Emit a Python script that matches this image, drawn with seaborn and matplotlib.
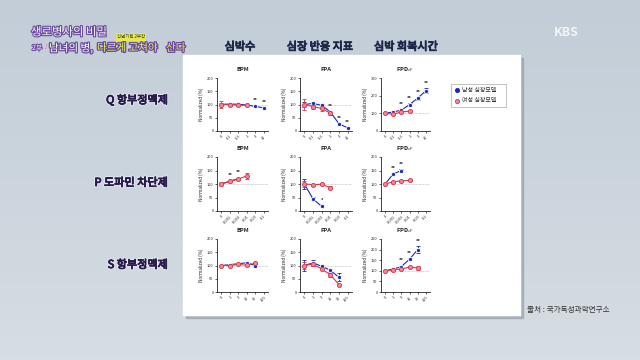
import numpy as np
import pandas as pd
import seaborn as sns
import matplotlib.pyplot as plt
import matplotlib.patheffects as pe
from matplotlib.patches import Rectangle
from matplotlib.colors import to_hex

# dose labels (x categories) per drug row
doses_q = ["0", "0.1", "0.3", "1", "3", "10"]
doses_p = ["0", "0.001", "0.003", "0.01", "0.03", "0.1"]
doses_s = ["0", "1", "3", "10", "30", "100"]

row_labels = ["Q 항부정맥제", "P 도파민 차단제", "S 항부정맥제"]
col_headers = ["심박수", "심장 반응 지표", "심박 회복시간"]
metrics = ["BPM", "FPA", "FPD$_{cF}$"]
sex_labels = ["남성 심장모델", "여성 심장모델"]

# values (normalized %)
q_bpm_m = [100, 102, 101, 98, 93, 87]
q_bpm_f = [100, 100, 97, 97]
q_fpa_m = [100, 104, 97, 72, 27, 12]
q_fpa_f = [100, 92, 85, 67]
q_fpd_m = [100, 108, 118, 150, 186, 228]
q_fpd_f = [100, 95, 108, 112]

p_bpm_m = [100, 110, 120]
p_bpm_f = [100, 110, 118, 130]
p_fpa_m = [100, 45, 17]
p_fpa_f = [100, 98, 99, 86]
p_fpd_m = [100, 137, 150]
p_fpd_f = [100, 108, 112, 113]

s_bpm_m = [100, 103, 107, 110, 100]
s_bpm_f = [100, 100, 104, 101, 109]
s_fpa_m = [100, 110, 97, 82, 55]
s_fpa_f = [100, 105, 87, 65, 28]
s_fpd_m = [100, 108, 120, 155, 200]
s_fpd_f = [100, 104, 108, 118, 113]

# error bar half-widths
q_bpm_m_err = [4, 3, 3, 3, 3, 3]
q_bpm_f_err = [15, 5, 4, 3]
q_fpa_m_err = [10, 5, 4, 5, 3, 2]
q_fpa_f_err = [22, 8, 10, 8]
q_fpd_m_err = [3, 4, 5, 6, 8, 14]
q_fpd_f_err = [4, 6, 5, 5]
p_bpm_m_err = [4, 4, 4]
p_bpm_f_err = [8, 5, 5, 12]
p_fpa_m_err = [20, 6, 3]
p_fpa_f_err = [10, 3, 3, 6]
p_fpd_m_err = [3, 5, 4]
p_fpd_f_err = [3, 3, 3, 3]
s_bpm_m_err = [3, 3, 4, 5, 6]
s_bpm_f_err = [3, 3, 3, 4, 4]
s_fpa_m_err = [22, 10, 4, 6, 15]
s_fpa_f_err = [15, 8, 4, 8, 4]
s_fpd_m_err = [3, 4, 5, 6, 15]
s_fpd_f_err = [3, 3, 4, 5, 8]

ymax = [[200, 200, 300], [200, 200, 200], [200, 200, 250]]
ystep = [[50, 50, 100], [50, 50, 50], [50, 50, 50]]

# significance marks: (x index, text)
stars = [
    [[(4, "**"), (5, "**")], [(3, "**"), (4, "**"), (5, "**")], [(2, "**"), (3, "**"), (4, "**"), (5, "**")]],
    [[(1, "**"), (2, "**")], [(2, "*")], [(1, "**"), (2, "**")]],
    [[], [], [(2, "**"), (3, "**"), (4, "**")]],
]

data = [
    [(q_bpm_m, q_bpm_m_err, q_bpm_f, q_bpm_f_err), (q_fpa_m, q_fpa_m_err, q_fpa_f, q_fpa_f_err), (q_fpd_m, q_fpd_m_err, q_fpd_f, q_fpd_f_err)],
    [(p_bpm_m, p_bpm_m_err, p_bpm_f, p_bpm_f_err), (p_fpa_m, p_fpa_m_err, p_fpa_f, p_fpa_f_err), (p_fpd_m, p_fpd_m_err, p_fpd_f, p_fpd_f_err)],
    [(s_bpm_m, s_bpm_m_err, s_bpm_f, s_bpm_f_err), (s_fpa_m, s_fpa_m_err, s_fpa_f, s_fpa_f_err), (s_fpd_m, s_fpd_m_err, s_fpd_f, s_fpd_f_err)],
]
doses = [doses_q, doses_p, doses_s]

sns.set_theme(style="ticks")
plt.rcParams["font.family"] = ["Noto Sans CJK KR", "DejaVu Sans"]
plt.rcParams["axes.unicode_minus"] = False

BLUE = "#1c2bb0"
RED = "#d8344c"
RED_FILL = "#ee8a98"
W, H = 640, 360

fig = plt.figure(figsize=(6.4, 3.6), dpi=100)
fig.patch.set_facecolor("#cbd4dc")


def fx(x):
    return x / W


def fy(y):
    return 1 - y / H


# soft vertical gradient for the studio background
bg = fig.add_axes([0, 0, 1, 1], zorder=-5)
grad = np.linspace(0, 1, 100).reshape(-1, 1)
bg.imshow(grad, aspect="auto", cmap=sns.blend_palette(["#c2cdd7", "#d6dde3"], as_cmap=True),
          extent=[0, 1, 0, 1], origin="upper")
bg.axis("off")

# white panel with shadow
fig.patches.append(Rectangle((fx(186), fy(318)), fx(337), fy(58) - fy(318), transform=fig.transFigure,
                             color="#8e98a2", alpha=0.55, zorder=1))
fig.patches.append(Rectangle((fx(183), fy(315)), fx(337), fy(55) - fy(315), transform=fig.transFigure,
                             color="white", zorder=2))

col_x = [(217, 268), (300, 352), (381, 430)]
row_y = [(78, 131), (157, 211), (239, 292)]

for r in range(3):
    for c in range(3):
        x0, x1 = col_x[c]
        y0, y1 = row_y[r]
        ax = fig.add_axes([fx(x0), fy(y1), fx(x1 - x0), fy(y0) - fy(y1)])
        ax.set_zorder(10)
        ax.set_facecolor("none")
        m, me, f, fe = data[r][c]
        df = pd.concat([
            pd.DataFrame({"pos": range(len(m)), "val": m, "err": me, "sex": sex_labels[0]}),
            pd.DataFrame({"pos": range(len(f)), "val": f, "err": fe, "sex": sex_labels[1]}),
        ])
        ax.axhline(100, color="#b0b0b0", lw=0.5, ls=(0, (1, 1)), zorder=1)
        for sex, col, z in [(sex_labels[0], BLUE, 3), (sex_labels[1], RED, 4)]:
            sub = df[df["sex"] == sex]
            ax.errorbar(sub["pos"], sub["val"], yerr=sub["err"], fmt="none", ecolor=col,
                        elinewidth=0.6, capsize=1.2, capthick=0.6, zorder=z)
        sns.lineplot(data=df, x="pos", y="val", hue="sex", palette=[BLUE, RED], marker="o",
                     markersize=3, markeredgewidth=0.6, lw=0.8, legend=False, ax=ax, zorder=5)
        # female markers have a lighter centre
        for ln in ax.lines:
            if to_hex(ln.get_color()) == RED:
                ln.set_markerfacecolor(RED_FILL)
                ln.set_markeredgecolor(RED)
        for xi, s in stars[r][c]:
            ax.text(xi, m[xi] + me[xi] + ymax[r][c] * 0.04, s, ha="center", va="bottom",
                    fontsize=3.5, color="#222222", fontweight="bold")
        ax.set_xlim(-0.5, 5.5)
        ax.set_ylim(0, ymax[r][c])
        ax.set_xticks(range(6))
        ax.set_xticklabels(doses[r], rotation=45, fontsize=2.6, ha="right", rotation_mode="anchor")
        ax.set_yticks(range(0, ymax[r][c] + 1, ystep[r][c]))
        ax.tick_params(axis="both", labelsize=2.8, width=0.5, length=1.5, pad=1)
        ax.set_xlabel("")
        ax.set_ylabel("Normalized (%)", fontsize=3.4, labelpad=2)
        ax.set_title(metrics[c], fontsize=4.2, fontweight="bold", pad=5)
        for sp in ["top", "right"]:
            ax.spines[sp].set_visible(False)
        for sp in ["left", "bottom"]:
            ax.spines[sp].set_linewidth(0.6)
            ax.spines[sp].set_color("#222222")

# column headers
for cx, t in zip([240, 320, 406], col_headers):
    fig.text(fx(cx), fy(47), t, ha="center", va="center", fontsize=8, color="#1e2748",
             path_effects=[pe.withStroke(linewidth=0.7, foreground="#1e2748")])

# row labels
for ry, t in zip([100, 183, 265], row_labels):
    fig.text(fx(168), fy(ry), t, ha="right", va="center", fontsize=8, color="#2a1c4c",
             path_effects=[pe.withStroke(linewidth=1.8, foreground="#eef0f5"),
                           pe.withStroke(linewidth=0.7, foreground="#2a1c4c")])

# legend
fig.patches.append(Rectangle((fx(451), fy(107)), fx(55), fy(84) - fy(107), transform=fig.transFigure,
                             facecolor="white", edgecolor="#aaaaaa", lw=0.5, zorder=3))
for ly, col, fc, t in [(90, BLUE, BLUE, sex_labels[0]), (101, RED, RED_FILL, sex_labels[1])]:
    fig.add_artist(plt.Line2D([fx(457)], [fy(ly)], marker="o", markersize=3, color=col,
                              markerfacecolor=fc, markeredgewidth=0.6,
                              transform=fig.transFigure, zorder=4))
    fig.text(fx(462), fy(ly), t, ha="left", va="center", fontsize=4.3, color="#333333", zorder=5)

# broadcast overlay texts
outline = "#6a4a9c"
fig.text(fx(31), fy(32), "생로병사의 비밀", ha="left", va="center", fontsize=8.2, color="#f4f0ff",
         path_effects=[pe.withStroke(linewidth=1.6, foreground=outline)])
fig.text(fx(131), fy(37), "신년기획 2부작", ha="center", va="center", fontsize=3.2, color="#333333",
         bbox=dict(boxstyle="square,pad=0.3", facecolor="#e6e84a", edgecolor="none"))
fig.text(fx(32), fy(48), "2부", ha="left", va="center", fontsize=5, color="white",
         path_effects=[pe.withStroke(linewidth=1.4, foreground=outline)])
fig.text(fx(43), fy(47), "♪", ha="left", va="center", fontsize=5, color="#f07ad0", family="DejaVu Sans")
fig.text(fx(49), fy(48), "남녀의 병,", ha="left", va="center", fontsize=7.6, color="white",
         path_effects=[pe.withStroke(linewidth=1.8, foreground=outline)])
fig.text(fx(97), fy(48), "다르게 고쳐야", ha="left", va="center", fontsize=7.6, color="#e0f060",
         path_effects=[pe.withStroke(linewidth=1.8, foreground=outline)])
fig.text(fx(166), fy(48), "산다", ha="left", va="center", fontsize=7.6, color="#f6e640",
         path_effects=[pe.withStroke(linewidth=1.8, foreground=outline)])
fig.text(fx(566), fy(32), "KBS", ha="center", va="center", fontsize=9, fontweight="bold",
         color="white", alpha=0.8)

# source
fig.text(fx(527), fy(310), "출처 : 국가독성과학연구소", ha="left", va="center", fontsize=5.5, color="#333333")

fig.savefig("out.png", dpi=100)
